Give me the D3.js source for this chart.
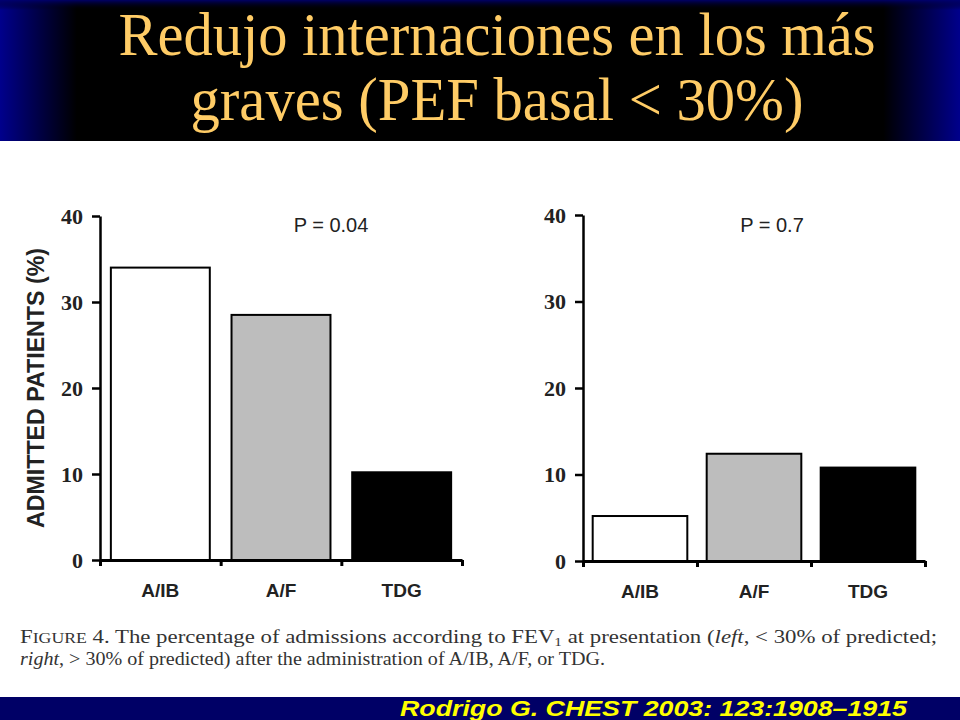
<!DOCTYPE html>
<html>
<head>
<meta charset="utf-8">
<script src="https://cdn.jsdelivr.net/npm/d3@7"></script>
<style>
  html, body { margin: 0; padding: 0; background: #fff; }
  svg { display: block; }
</style>
</head>
<body>
<script>
// data
const treatments = ['A/IB', 'A/F', 'TDG'];
const leftValues = [34.0, 28.5, 10.2];   // FEV1 < 30% predicted
const rightValues = [5.2, 12.4, 10.8];   // FEV1 > 30% predicted
const yTicks = [0, 10, 20, 30, 40];
const barFills = ['#ffffff', '#bdbdbd', '#000000'];
const pLabels = ['P = 0.04', 'P = 0.7'];

const width = 960;
const height = 720;

const svg = d3.select('body').append('svg')
  .attr('width', width)
  .attr('height', height);

// title band: black with navy fading in from the edges
const defs = svg.append('defs');
const grad = defs.append('linearGradient').attr('id', 'band').attr('x1', 0).attr('x2', 1);
grad.append('stop').attr('offset', '0%').attr('stop-color', '#00008c');
grad.append('stop').attr('offset', '8%').attr('stop-color', '#000000');
grad.append('stop').attr('offset', '92%').attr('stop-color', '#000000');
grad.append('stop').attr('offset', '100%').attr('stop-color', '#00008c');
const gradTop = defs.append('linearGradient').attr('id', 'bandTop').attr('x1', 0).attr('x2', 0).attr('y1', 0).attr('y2', 1);
gradTop.append('stop').attr('offset', '0%').attr('stop-color', '#000070').attr('stop-opacity', 0.9);
gradTop.append('stop').attr('offset', '100%').attr('stop-color', '#000000').attr('stop-opacity', 0);

svg.append('rect').attr('x', 0).attr('y', 0).attr('width', width).attr('height', 141).attr('fill', 'url(#band)');
svg.append('rect').attr('x', 0).attr('y', 0).attr('width', width).attr('height', 10).attr('fill', 'url(#bandTop)');

// title glyphs are a bit taller than plain Times, so stretch vertically
const title = svg.append('text')
  .attr('transform', 'translate(0,0) scale(1,1.08)')
  .attr('text-anchor', 'middle')
  .attr('font-family', '"Liberation Serif", "Times New Roman", serif')
  .attr('font-size', 57)
  .attr('fill', '#ffcc66');
title.append('tspan').attr('x', 497).attr('y', 51).attr('textLength', 757).attr('lengthAdjust', 'spacingAndGlyphs')
  .text('Redujo internaciones en los más');
title.append('tspan').attr('x', 497).attr('y', 111).attr('textLength', 613).attr('lengthAdjust', 'spacingAndGlyphs')
  .text('graves (PEF basal < 30%)');

// one panel of the figure
function panel(values, opts) {
  const y = d3.scaleLinear().domain([0, 40]).range([opts.y0, opts.y40]);
  const x = d3.scaleBand().domain(treatments).range([opts.x0, opts.x1]);
  const xb = d3.scaleLinear().domain([0, treatments.length]).range([opts.x0, opts.x1]);
  const g = svg.append('g');

  // bars
  g.selectAll('rect.bar')
    .data(values)
    .join('rect')
    .attr('class', 'bar')
    .attr('x', (d, i) => x(treatments[i]) + x.bandwidth() * opts.pad)
    .attr('width', x.bandwidth() * (1 - 2 * opts.pad))
    .attr('y', d => y(d))
    .attr('height', d => y(0) - y(d))
    .attr('fill', (d, i) => barFills[i])
    .attr('stroke', '#000')
    .attr('stroke-width', 2);

  // y axis
  const ya = g.append('g')
    .attr('transform', `translate(${opts.x0},0)`)
    .call(d3.axisLeft(y).tickValues(yTicks).tickSize(8).tickPadding(9).tickSizeOuter(0));
  ya.select('.domain').attr('stroke-width', 2.5);
  ya.selectAll('.tick line').attr('stroke-width', 2.5);
  ya.selectAll('.tick text')
    .attr('font-family', '"Liberation Serif", "Times New Roman", serif')
    .attr('font-weight', 'bold')
    .attr('font-size', 22)
    .attr('fill', '#222');

  // x axis: ticks at the band edges
  const xa = g.append('g')
    .attr('transform', `translate(0,${opts.y0})`)
    .call(d3.axisBottom(xb).tickValues([0, 1, 2, 3]).tickSize(6).tickSizeOuter(0).tickFormat(''));
  xa.select('.domain').attr('stroke-width', 3);
  xa.selectAll('.tick line').attr('stroke-width', 3);

  // category labels
  g.selectAll('text.cat')
    .data(treatments)
    .join('text')
    .attr('class', 'cat')
    .attr('x', d => x(d) + x.bandwidth() / 2)
    .attr('y', opts.y0 + 37)
    .attr('text-anchor', 'middle')
    .attr('font-family', '"Liberation Sans", Arial, sans-serif')
    .attr('font-weight', 'bold')
    .attr('font-size', 19)
    .attr('fill', '#222')
    .text(d => d);

  g.append('text')
    .attr('x', opts.px)
    .attr('y', 232)
    .attr('text-anchor', 'middle')
    .attr('font-family', '"Liberation Sans", Arial, sans-serif')
    .attr('font-size', 20)
    .attr('fill', '#222')
    .text(opts.p);
}

panel(leftValues, { x0: 100, x1: 462, y0: 560, y40: 216, pad: 0.09, px: 331, p: pLabels[0] });
panel(rightValues, { x0: 583, x1: 925, y0: 561, y40: 215, pad: 0.085, px: 772, p: pLabels[1] });

svg.append('text')
  .attr('transform', 'translate(44,388) rotate(-90)')
  .attr('text-anchor', 'middle')
  .attr('font-family', '"Liberation Sans", Arial, sans-serif')
  .attr('font-weight', 'bold')
  .attr('font-size', 24)
  .attr('textLength', 280)
  .attr('lengthAdjust', 'spacingAndGlyphs')
  .attr('fill', '#222')
  .text('ADMITTED PATIENTS (%)');

// caption
const cap = svg.append('g')
  .attr('font-family', '"Liberation Serif", "Times New Roman", serif')
  .attr('font-size', 18)
  .attr('fill', '#333');
const l1 = cap.append('text').attr('x', 20).attr('y', 643)
  .attr('textLength', 917).attr('lengthAdjust', 'spacingAndGlyphs');
l1.append('tspan').text('F');
l1.append('tspan').attr('font-size', 14).text('IGURE');
l1.append('tspan').text(' 4. The percentage of admissions according to FEV');
l1.append('tspan').attr('font-size', 12).attr('dy', 3).text('1');
l1.append('tspan').attr('dy', -3).text(' at presentation (');
l1.append('tspan').attr('font-style', 'italic').text('left');
l1.append('tspan').text(', < 30% of predicted;');
const l2 = cap.append('text').attr('x', 20).attr('y', 665)
  .attr('textLength', 585).attr('lengthAdjust', 'spacingAndGlyphs');
l2.append('tspan').attr('font-style', 'italic').text('right');
l2.append('tspan').text(', > 30% of predicted) after the administration of A/IB, A/F, or TDG.');

// footer band
svg.append('rect').attr('x', 0).attr('y', 697).attr('width', width).attr('height', 23).attr('fill', '#000066');
svg.append('text')
  .attr('x', 400)
  .attr('y', 716)
  .attr('textLength', 507)
  .attr('lengthAdjust', 'spacingAndGlyphs')
  .attr('font-family', '"Liberation Sans", Arial, sans-serif')
  .attr('font-weight', 'bold')
  .attr('font-style', 'italic')
  .attr('font-size', 22)
  .attr('fill', '#ffff00')
  .text('Rodrigo G. CHEST 2003: 123:1908–1915');
</script>
</body>
</html>
